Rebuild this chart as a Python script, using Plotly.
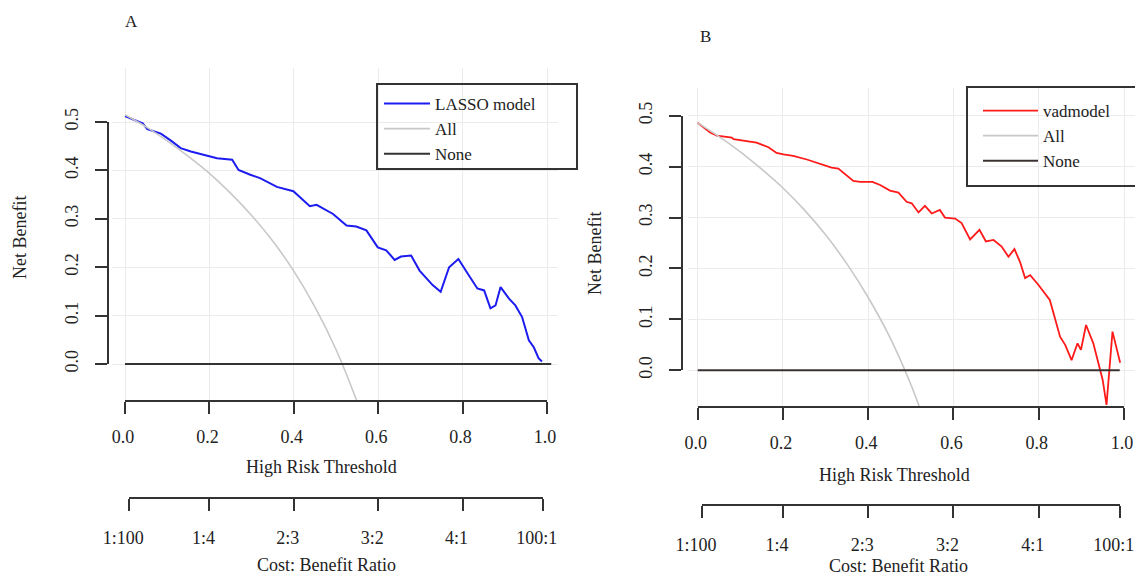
import plotly.graph_objects as go

W, H = 1135, 576

# ---------------- data ----------------
# Panel A
lasso_t = [0.000, 0.042, 0.053, 0.085, 0.108, 0.132, 0.156, 0.195, 0.218, 0.254, 0.269,
           0.297, 0.320, 0.360, 0.399, 0.438, 0.454, 0.493, 0.525, 0.548, 0.572, 0.599,
           0.619, 0.639, 0.654, 0.678, 0.698, 0.729, 0.748, 0.768, 0.790, 0.815, 0.835,
           0.851, 0.866, 0.878, 0.890, 0.910, 0.925, 0.941, 0.957, 0.969, 0.980, 0.988]
lasso_nb = [0.512, 0.497, 0.485, 0.476, 0.462, 0.446, 0.439, 0.431, 0.425, 0.422, 0.401,
            0.391, 0.384, 0.366, 0.357, 0.326, 0.329, 0.310, 0.286, 0.284, 0.276, 0.241,
            0.235, 0.215, 0.222, 0.224, 0.193, 0.163, 0.149, 0.200, 0.217, 0.183, 0.156,
            0.152, 0.115, 0.121, 0.159, 0.135, 0.121, 0.097, 0.049, 0.034, 0.012, 0.005]
allA_t = [0.00, 0.05, 0.10, 0.15, 0.20, 0.25, 0.30, 0.35, 0.40, 0.45, 0.50, 0.55, 0.575]
allA_nb = [0.515, 0.490, 0.461, 0.429, 0.394, 0.353, 0.307, 0.254, 0.192, 0.118, 0.030, -0.078, -0.141]
noneA_t = [0.0, 1.01]
noneA_nb = [0.0, 0.0]

# Panel B
vad_t = [0.000, 0.029, 0.045, 0.060, 0.080, 0.084, 0.115, 0.138, 0.166, 0.185, 0.201,
         0.224, 0.256, 0.287, 0.314, 0.330, 0.365, 0.381, 0.410, 0.428, 0.451, 0.471,
         0.490, 0.502, 0.518, 0.533, 0.549, 0.568, 0.580, 0.604, 0.619, 0.639, 0.661,
         0.676, 0.694, 0.713, 0.729, 0.743, 0.756, 0.768, 0.780, 0.799, 0.826, 0.850,
         0.862, 0.877, 0.891, 0.899, 0.911, 0.928, 0.945, 0.950, 0.959, 0.973, 0.991]
vad_nb = [0.486, 0.467, 0.461, 0.459, 0.457, 0.454, 0.450, 0.447, 0.438, 0.427, 0.424,
          0.421, 0.414, 0.406, 0.398, 0.396, 0.372, 0.370, 0.370, 0.364, 0.353, 0.349,
          0.331, 0.328, 0.310, 0.323, 0.308, 0.315, 0.300, 0.298, 0.289, 0.257, 0.276,
          0.253, 0.256, 0.243, 0.223, 0.238, 0.213, 0.181, 0.187, 0.168, 0.138, 0.066,
          0.050, 0.020, 0.053, 0.040, 0.089, 0.053, -0.003, -0.019, -0.068, 0.076, 0.015]
allB_t = [0.00, 0.05, 0.10, 0.15, 0.20, 0.25, 0.30, 0.35, 0.40, 0.45, 0.50, 0.55]
allB_nb = [0.486, 0.459, 0.429, 0.395, 0.358, 0.315, 0.266, 0.209, 0.143, 0.066, -0.028, -0.142]
noneB_t = [0.0, 0.99]
noneB_nb = [0.0, 0.0]

thr_ticks = [0.0, 0.2, 0.4, 0.6, 0.8, 1.0]
thr_labels = ["0.0", "0.2", "0.4", "0.6", "0.8", "1.0"]
nb_ticks = [0.0, 0.1, 0.2, 0.3, 0.4, 0.5]
nb_labels = ["0.0", "0.1", "0.2", "0.3", "0.4", "0.5"]
cb_ticks = [1 / 101, 0.2, 0.4, 0.6, 0.8, 100 / 101]
cb_labels = ["1:100", "1:4", "2:3", "3:2", "4:1", "100:1"]


# ---------------- layout helpers (pixel geometry) ----------------
def px(x):
    return x / W


def py(y):
    return 1 - y / H


FONT = "Liberation Serif"
TXT = "#222222"
AX = "#333333"
GRID = "#EBEBEB"

# panel geometry: pixel of threshold 0 and 1, of NB 0 and 0.5
A = dict(x0=125.0, x1=547.0, y0=364.0, y5=122.0, left=112, right=558, top=68, bottom=401,
         yaxis_x=108, cb_y=498)
B = dict(x0=697.7, x1=1124.0, y0=370.3, y5=115.7, left=688, right=1135, top=88, bottom=407,
         yaxis_x=682, cb_y=505)


def panel_axes(P):
    sx = P["x1"] - P["x0"]
    sy = (P["y0"] - P["y5"]) / 0.5
    data_x = dict(domain=[px(P["left"]), min(1.0, px(P["right"]))],
                  range=[-(P["x0"] - P["left"]) / sx, (P["right"] - P["x0"]) / sx],
                  showgrid=True, gridcolor=GRID, gridwidth=1, tickvals=thr_ticks,
                  showticklabels=False, zeroline=False, showline=False, ticks="",
                  automargin=False)
    data_y = dict(domain=[py(P["bottom"]), py(P["top"])],
                  range=[-(P["bottom"] - P["y0"]) / sy, (P["y0"] - P["top"]) / sy],
                  showgrid=True, gridcolor=GRID, gridwidth=1, tickvals=nb_ticks,
                  showticklabels=False, zeroline=False, showline=False, ticks="",
                  automargin=False)
    common = dict(showline=True, linecolor=AX, linewidth=1.6, ticks="outside", ticklen=12,
                  tickwidth=1.6, tickcolor=AX, showgrid=False, zeroline=False,
                  tickfont=dict(family=FONT, size=18, color=TXT), anchor="free",
                  automargin=False, ticklabeloverflow="allow")
    thr_x = dict(common, domain=[px(P["x0"]), px(P["x1"])], range=[0, 1],
                 tickvals=thr_ticks, ticktext=thr_labels, position=py(P["bottom"]),
                 ticklabelstandoff=8, ticklabelshift=-2)
    nb_y = dict(common, domain=[py(P["y0"]), py(P["y5"])], range=[0, 0.5],
                tickvals=nb_ticks, ticktext=nb_labels, position=px(P["yaxis_x"]),
                tickangle=-90, ticklabelstandoff=10)
    c0, c1 = cb_ticks[0], cb_ticks[-1]
    cb_x = dict(common, domain=[px(P["x0"] + c0 * sx), px(P["x0"] + c1 * sx)],
                range=[c0, c1], tickvals=cb_ticks, ticktext=cb_labels,
                position=py(P["cb_y"]), ticklabelstandoff=12, ticklabelshift=-6)
    return data_x, data_y, thr_x, nb_y, cb_x


ax_A = panel_axes(A)
ax_B = panel_axes(B)

fig = go.Figure()

# Panel A traces
fig.add_trace(go.Scatter(x=lasso_t, y=lasso_nb, mode="lines", name="LASSO model",
                         line=dict(color="#1C1CF0", width=2), xaxis="x", yaxis="y",
                         legend="legend"))
fig.add_trace(go.Scatter(x=allA_t, y=allA_nb, mode="lines", name="All",
                         line=dict(color="#C8C8C8", width=1.6, shape="spline"),
                         xaxis="x", yaxis="y", legend="legend"))
fig.add_trace(go.Scatter(x=noneA_t, y=noneA_nb, mode="lines", name="None",
                         line=dict(color="#333333", width=2), xaxis="x", yaxis="y",
                         legend="legend"))

# Panel B traces
fig.add_trace(go.Scatter(x=vad_t, y=vad_nb, mode="lines", name="vadmodel",
                         line=dict(color="#FF1A1A", width=1.8), xaxis="x2", yaxis="y2",
                         legend="legend2"))
fig.add_trace(go.Scatter(x=allB_t, y=allB_nb, mode="lines", name="All",
                         line=dict(color="#C8C8C8", width=1.6, shape="spline"),
                         xaxis="x2", yaxis="y2", legend="legend2"))
fig.add_trace(go.Scatter(x=noneB_t, y=noneB_nb, mode="lines", name="None",
                         line=dict(color="#3A3230", width=2), xaxis="x2", yaxis="y2",
                         legend="legend2"))

# invisible traces that register the decorative axes
for xa, ya in [("x3", "y3"), ("x5", "y3"), ("x4", "y4"), ("x6", "y4")]:
    fig.add_trace(go.Scatter(x=[0.5], y=[0.25], mode="markers", marker=dict(opacity=0),
                             showlegend=False, hoverinfo="skip", xaxis=xa, yaxis=ya))

lay = dict(
    width=W, height=H, autosize=False,
    margin=dict(l=0, r=0, t=0, b=0, pad=0, autoexpand=False),
    paper_bgcolor="white", plot_bgcolor="rgba(0,0,0,0)",
    font=dict(family=FONT, color=TXT, size=18),
    xaxis=ax_A[0], yaxis=ax_A[1],
    xaxis2=ax_B[0], yaxis2=ax_B[1],
    xaxis3=ax_A[2], yaxis3=ax_A[3], xaxis5=ax_A[4],
    xaxis4=ax_B[2], yaxis4=ax_B[3], xaxis6=ax_B[4],
    legend=dict(x=px(379), y=py(86), xanchor="left", yanchor="top",
                bgcolor="rgba(0,0,0,0)", borderwidth=0, itemwidth=46, tracegroupgap=0,
                font=dict(family=FONT, size=17, color=TXT)),
    legend2=dict(x=px(978), y=py(93), xanchor="left", yanchor="top",
                 bgcolor="rgba(0,0,0,0)", borderwidth=0, itemwidth=55, tracegroupgap=0,
                 font=dict(family=FONT, size=17, color=TXT)),
    shapes=[
        dict(type="rect", xref="paper", yref="paper", x0=px(377), x1=px(577),
             y0=py(169), y1=py(84), line=dict(color=AX, width=2)),
        dict(type="rect", xref="paper", yref="paper", x0=px(967), x1=px(1150),
             y0=py(186), y1=py(87), line=dict(color=AX, width=2)),
    ],
)
fig.update_layout(**lay)

ann = [
    ("A", 131, 21, 0, 17), ("B", 705, 36, 0, 17),
    ("High Risk Threshold", 321, 467, 0, 18), ("Cost: Benefit Ratio", 327, 565, 0, 18),
    ("High Risk Threshold", 894, 475, 0, 18), ("Cost: Benefit Ratio", 898, 566, 0, 18),
    ("Net Benefit", 20, 238, -90, 18), ("Net Benefit", 595, 254, -90, 18),
]
for text, x, y, ang, size in ann:
    fig.add_annotation(text=text, xref="paper", yref="paper", x=px(x), y=py(y),
                       xanchor="center", yanchor="middle", showarrow=False, textangle=ang,
                       font=dict(family=FONT, size=size, color=TXT))

# remove the browser's default 8 px body margin so the figure fills the window
fig.write_html("out.html",
               config={"displayModeBar": False},
               post_script="document.body.style.margin='0';"
                           "document.body.style.overflow='hidden';")
